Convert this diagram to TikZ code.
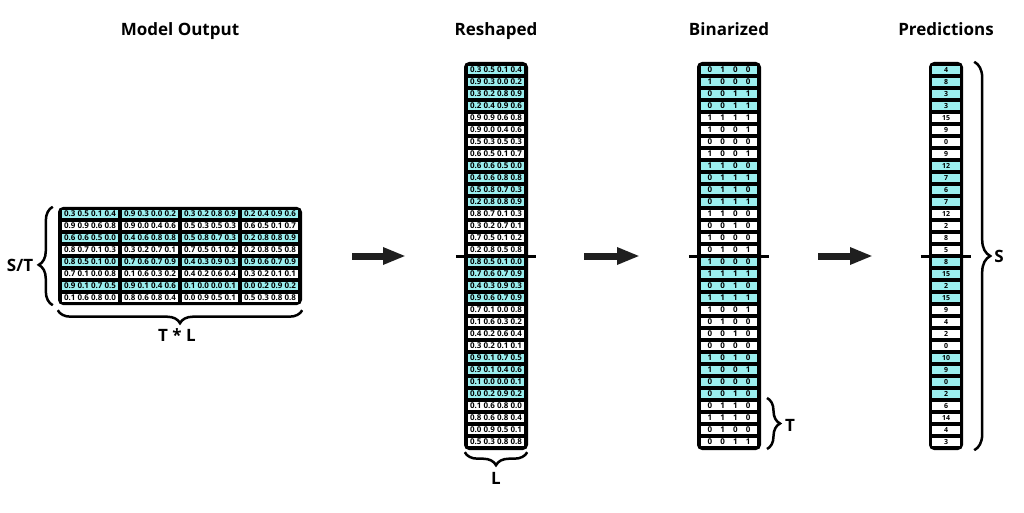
\documentclass[tikz,border=0pt]{standalone}
\usepackage{fontspec}
\setmainfont{Open Sans}
\usepackage{xcolor}
\usepackage{tikz}
\usetikzlibrary{shapes,arrows.meta,decorations.pathreplacing}
\definecolor{cellcyan}{HTML}{9BEFEF}
\newcommand{\cellfont}{\fontsize{8}{8}\selectfont\bfseries}
\newcommand{\predfont}{\fontsize{7}{7}\selectfont\bfseries}
\newcommand{\bigfont}{\fontsize{17}{17}\selectfont\bfseries}
\newcommand{\bitrow}[4]{\makebox[12.7pt]{#1}\makebox[12.7pt]{#2}\makebox[12.7pt]{#3}\makebox[12.7pt]{#4}}
\tikzset{cbox/.style={fill=black,rounded corners=5pt,inner sep=0pt},
  cellc/.style={fill=cellcyan,minimum width=56pt,minimum height=8pt,inner sep=0pt,font=\cellfont},
  cellw/.style={cellc,fill=white},
  predc/.style={cellc,minimum width=28pt,font=\predfont},
  predw/.style={predc,fill=white},
  ttl/.style={font=\bigfont,anchor=base},
  lbl/.style={font=\bigfont},
  midln/.style={line width=3pt},
  fatarrow/.style={line width=7pt,draw=black!88,-{Triangle[length=23pt,width=16pt]}},
  brc/.style={decorate,decoration={brace,amplitude=13pt},line width=2.5pt}}

\begin{document}
\begin{tikzpicture}[x=1pt,y=1pt]
        \useasboundingbox (0,0) rectangle (1024,512);

        \node[ttl] (t1) at (180,476) {Model Output};
        \node[ttl] (t2) at (496,476) {Reshaped};
        \node[ttl] (t3) at (729,476) {Binarized};
        \node[ttl] (t4) at (946,476) {Predictions};

        % model output
        \node[cbox,minimum width=244pt,minimum height=98pt] (gbox) at (180,256) {};
        \node[cellc] (g11) at (90,298) {0.3 0.5 0.1 0.4};
        \node[cellc] (g12) at (150,298) {0.9 0.3 0.0 0.2};
        \node[cellc] (g13) at (210,298) {0.3 0.2 0.8 0.9};
        \node[cellc] (g14) at (270,298) {0.2 0.4 0.9 0.6};
        \node[cellw] (g21) at (90,286) {0.9 0.9 0.6 0.8};
        \node[cellw] (g22) at (150,286) {0.9 0.0 0.4 0.6};
        \node[cellw] (g23) at (210,286) {0.5 0.3 0.5 0.3};
        \node[cellw] (g24) at (270,286) {0.6 0.5 0.1 0.7};
        \node[cellc] (g31) at (90,274) {0.6 0.6 0.5 0.0};
        \node[cellc] (g32) at (150,274) {0.4 0.6 0.8 0.8};
        \node[cellc] (g33) at (210,274) {0.5 0.8 0.7 0.3};
        \node[cellc] (g34) at (270,274) {0.2 0.8 0.8 0.9};
        \node[cellw] (g41) at (90,262) {0.8 0.7 0.1 0.3};
        \node[cellw] (g42) at (150,262) {0.3 0.2 0.7 0.1};
        \node[cellw] (g43) at (210,262) {0.7 0.5 0.1 0.2};
        \node[cellw] (g44) at (270,262) {0.2 0.8 0.5 0.8};
        \node[cellc] (g51) at (90,250) {0.8 0.5 0.1 0.0};
        \node[cellc] (g52) at (150,250) {0.7 0.6 0.7 0.9};
        \node[cellc] (g53) at (210,250) {0.4 0.3 0.9 0.3};
        \node[cellc] (g54) at (270,250) {0.9 0.6 0.7 0.9};
        \node[cellw] (g61) at (90,238) {0.7 0.1 0.0 0.8};
        \node[cellw] (g62) at (150,238) {0.1 0.6 0.3 0.2};
        \node[cellw] (g63) at (210,238) {0.4 0.2 0.6 0.4};
        \node[cellw] (g64) at (270,238) {0.3 0.2 0.1 0.1};
        \node[cellc] (g71) at (90,226) {0.9 0.1 0.7 0.5};
        \node[cellc] (g72) at (150,226) {0.9 0.1 0.4 0.6};
        \node[cellc] (g73) at (210,226) {0.1 0.0 0.0 0.1};
        \node[cellc] (g74) at (270,226) {0.0 0.2 0.9 0.2};
        \node[cellw] (g81) at (90,214) {0.1 0.6 0.8 0.0};
        \node[cellw] (g82) at (150,214) {0.8 0.6 0.8 0.4};
        \node[cellw] (g83) at (210,214) {0.0 0.9 0.5 0.1};
        \node[cellw] (g84) at (270,214) {0.5 0.3 0.8 0.8};

        % reshaped
        \node[cbox,minimum width=64pt,minimum height=388pt] (rbox) at (496,256) {};
        \node[cellc] (r1) at (496,442) {0.3 0.5 0.1 0.4};
        \node[cellc] (r2) at (496,430) {0.9 0.3 0.0 0.2};
        \node[cellc] (r3) at (496,418) {0.3 0.2 0.8 0.9};
        \node[cellc] (r4) at (496,406) {0.2 0.4 0.9 0.6};
        \node[cellw] (r5) at (496,394) {0.9 0.9 0.6 0.8};
        \node[cellw] (r6) at (496,382) {0.9 0.0 0.4 0.6};
        \node[cellw] (r7) at (496,370) {0.5 0.3 0.5 0.3};
        \node[cellw] (r8) at (496,358) {0.6 0.5 0.1 0.7};
        \node[cellc] (r9) at (496,346) {0.6 0.6 0.5 0.0};
        \node[cellc] (r10) at (496,334) {0.4 0.6 0.8 0.8};
        \node[cellc] (r11) at (496,322) {0.5 0.8 0.7 0.3};
        \node[cellc] (r12) at (496,310) {0.2 0.8 0.8 0.9};
        \node[cellw] (r13) at (496,298) {0.8 0.7 0.1 0.3};
        \node[cellw] (r14) at (496,286) {0.3 0.2 0.7 0.1};
        \node[cellw] (r15) at (496,274) {0.7 0.5 0.1 0.2};
        \node[cellw] (r16) at (496,262) {0.2 0.8 0.5 0.8};
        \node[cellc] (r17) at (496,250) {0.8 0.5 0.1 0.0};
        \node[cellc] (r18) at (496,238) {0.7 0.6 0.7 0.9};
        \node[cellc] (r19) at (496,226) {0.4 0.3 0.9 0.3};
        \node[cellc] (r20) at (496,214) {0.9 0.6 0.7 0.9};
        \node[cellw] (r21) at (496,202) {0.7 0.1 0.0 0.8};
        \node[cellw] (r22) at (496,190) {0.1 0.6 0.3 0.2};
        \node[cellw] (r23) at (496,178) {0.4 0.2 0.6 0.4};
        \node[cellw] (r24) at (496,166) {0.3 0.2 0.1 0.1};
        \node[cellc] (r25) at (496,154) {0.9 0.1 0.7 0.5};
        \node[cellc] (r26) at (496,142) {0.9 0.1 0.4 0.6};
        \node[cellc] (r27) at (496,130) {0.1 0.0 0.0 0.1};
        \node[cellc] (r28) at (496,118) {0.0 0.2 0.9 0.2};
        \node[cellw] (r29) at (496,106) {0.1 0.6 0.8 0.0};
        \node[cellw] (r30) at (496,94) {0.8 0.6 0.8 0.4};
        \node[cellw] (r31) at (496,82) {0.0 0.9 0.5 0.1};
        \node[cellw] (r32) at (496,70) {0.5 0.3 0.8 0.8};

        % binarized
        \node[cbox,minimum width=64pt,minimum height=388pt] (bbox) at (729,256) {};
        \node[cellc] (b1) at (729,442) {\bitrow0100};
        \node[cellc] (b2) at (729,430) {\bitrow1000};
        \node[cellc] (b3) at (729,418) {\bitrow0011};
        \node[cellc] (b4) at (729,406) {\bitrow0011};
        \node[cellw] (b5) at (729,394) {\bitrow1111};
        \node[cellw] (b6) at (729,382) {\bitrow1001};
        \node[cellw] (b7) at (729,370) {\bitrow0000};
        \node[cellw] (b8) at (729,358) {\bitrow1001};
        \node[cellc] (b9) at (729,346) {\bitrow1100};
        \node[cellc] (b10) at (729,334) {\bitrow0111};
        \node[cellc] (b11) at (729,322) {\bitrow0110};
        \node[cellc] (b12) at (729,310) {\bitrow0111};
        \node[cellw] (b13) at (729,298) {\bitrow1100};
        \node[cellw] (b14) at (729,286) {\bitrow0010};
        \node[cellw] (b15) at (729,274) {\bitrow1000};
        \node[cellw] (b16) at (729,262) {\bitrow0101};
        \node[cellc] (b17) at (729,250) {\bitrow1000};
        \node[cellc] (b18) at (729,238) {\bitrow1111};
        \node[cellc] (b19) at (729,226) {\bitrow0010};
        \node[cellc] (b20) at (729,214) {\bitrow1111};
        \node[cellw] (b21) at (729,202) {\bitrow1001};
        \node[cellw] (b22) at (729,190) {\bitrow0100};
        \node[cellw] (b23) at (729,178) {\bitrow0010};
        \node[cellw] (b24) at (729,166) {\bitrow0000};
        \node[cellc] (b25) at (729,154) {\bitrow1010};
        \node[cellc] (b26) at (729,142) {\bitrow1001};
        \node[cellc] (b27) at (729,130) {\bitrow0000};
        \node[cellc] (b28) at (729,118) {\bitrow0010};
        \node[cellw] (b29) at (729,106) {\bitrow0110};
        \node[cellw] (b30) at (729,94) {\bitrow1110};
        \node[cellw] (b31) at (729,82) {\bitrow0100};
        \node[cellw] (b32) at (729,70) {\bitrow0011};

        % predictions
        \node[cbox,minimum width=34pt,minimum height=388pt] (pbox) at (946,256) {};
        \node[predc] (p1) at (946,442) {4};
        \node[predc] (p2) at (946,430) {8};
        \node[predc] (p3) at (946,418) {3};
        \node[predc] (p4) at (946,406) {3};
        \node[predw] (p5) at (946,394) {15};
        \node[predw] (p6) at (946,382) {9};
        \node[predw] (p7) at (946,370) {0};
        \node[predw] (p8) at (946,358) {9};
        \node[predc] (p9) at (946,346) {12};
        \node[predc] (p10) at (946,334) {7};
        \node[predc] (p11) at (946,322) {6};
        \node[predc] (p12) at (946,310) {7};
        \node[predw] (p13) at (946,298) {12};
        \node[predw] (p14) at (946,286) {2};
        \node[predw] (p15) at (946,274) {8};
        \node[predw] (p16) at (946,262) {5};
        \node[predc] (p17) at (946,250) {8};
        \node[predc] (p18) at (946,238) {15};
        \node[predc] (p19) at (946,226) {2};
        \node[predc] (p20) at (946,214) {15};
        \node[predw] (p21) at (946,202) {9};
        \node[predw] (p22) at (946,190) {4};
        \node[predw] (p23) at (946,178) {2};
        \node[predw] (p24) at (946,166) {0};
        \node[predc] (p25) at (946,154) {10};
        \node[predc] (p26) at (946,142) {9};
        \node[predc] (p27) at (946,130) {0};
        \node[predc] (p28) at (946,118) {2};
        \node[predw] (p29) at (946,106) {6};
        \node[predw] (p30) at (946,94) {14};
        \node[predw] (p31) at (946,82) {4};
        \node[predw] (p32) at (946,70) {3};

        % split lines
        \draw[midln] ([xshift=-8pt]rbox.west) -- ([xshift=8pt]rbox.east);
        \draw[midln] ([xshift=-8pt]bbox.west) -- ([xshift=8pt]bbox.east);
        \draw[midln] ([xshift=-8pt]pbox.west) -- ([xshift=8pt]pbox.east);

        % arrows
        \coordinate (a1s) at (352,256);
        \coordinate (a1e) at (406,256);
        \coordinate (a2s) at (584,256);
        \coordinate (a2e) at (640,256);
        \coordinate (a3s) at (818,256);
        \coordinate (a3e) at (873,256);
        \draw[fatarrow] (a1s) -- (a1e);
        \draw[fatarrow] (a2s) -- (a2e);
        \draw[fatarrow] (a3s) -- (a3e);

        % braces
        \draw[brc,decoration={brace,amplitude=14pt,aspect=0.41}] ([xshift=-5pt]gbox.south west) -- ([xshift=-5pt]gbox.north west);
        \draw[brc] ([yshift=-5pt]gbox.south east) -- ([yshift=-5pt]gbox.south west);
        \draw[brc] ([xshift=-1pt,yshift=-2pt]rbox.south east) -- ([xshift=1pt,yshift=-2pt]rbox.south west);
        \coordinate (tt) at (767,114);
        \coordinate (tb) at (767,63);
        \draw[brc] (tt) -- (tb);
        \draw[brc,decoration={brace,amplitude=16pt}] ([xshift=11pt]pbox.north east) -- ([xshift=11pt]pbox.south east);

        \node[lbl] (st) at (20,247) {S/T};
        \node[lbl] (tl) at (177,177) {T * L};
        \node[lbl] (ll) at (496,34) {L};
        \node[lbl] (tt2) at (790,87) {T};
        \node[lbl] (ss) at (999,256) {S};
    \end{tikzpicture}
\end{document}
